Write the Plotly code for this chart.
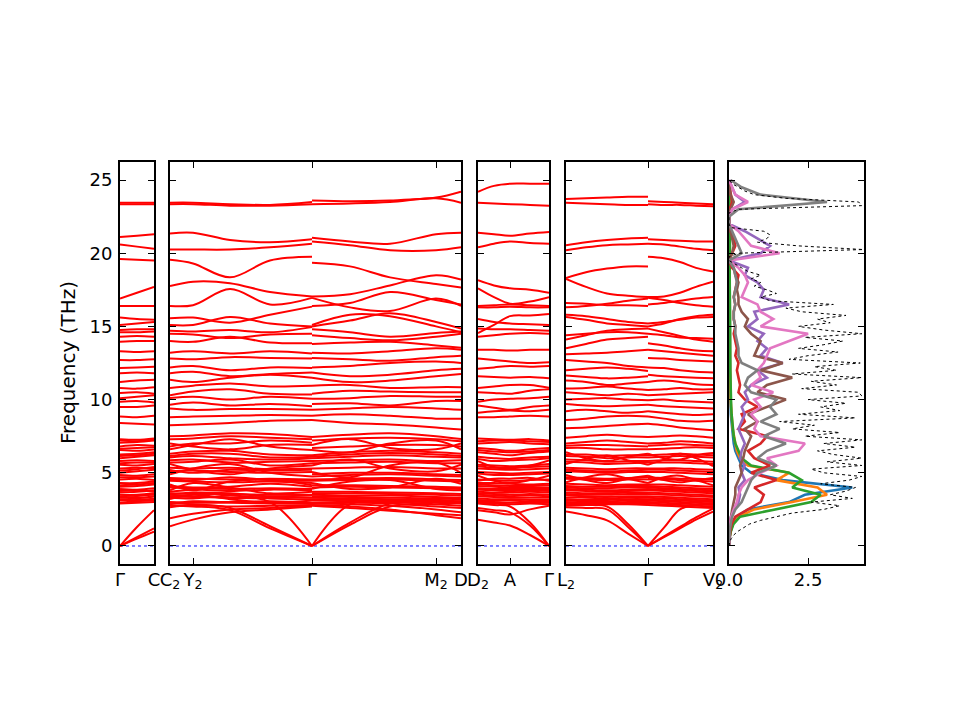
import plotly.graph_objects as go

# --- Band structure data (frequency in THz), k in path units (~100 px per unit) ---
gc_k = [0.0, 0.17, 0.34]
gc_bands = [
    [0.0, 1.3, 2.45], [0.0, 0.6, 1.2], [0.0, 0.5, 0.98],
    [2.9, 2.95, 3.0], [3.1, 3.15, 3.2], [3.3, 3.35, 3.25], [3.5, 3.5, 3.6],
    [3.65, 3.7, 3.8], [3.9, 3.85, 3.95], [4.05, 4.1, 4.2], [4.3, 4.3, 4.4],
    [4.55, 4.6, 4.5], [4.85, 4.8, 4.9], [5.0, 5.1, 5.2], [5.3, 5.35, 5.3],
    [5.55, 5.5, 5.6], [5.8, 5.85, 5.8], [6.0, 6.1, 6.2], [6.25, 6.3, 6.4],
    [6.55, 6.5, 6.6], [6.8, 6.9, 6.85], [7.05, 7.1, 7.2], [7.3, 7.25, 7.35],
    [2.95, 3.05, 3.1], [3.2, 3.25, 3.4], [3.4, 3.45, 3.5], [3.75, 3.8, 3.7],
    [4.15, 4.2, 4.3], [4.7, 4.7, 4.75], [5.15, 5.25, 5.4], [5.65, 5.7, 5.7],
    [6.15, 6.2, 6.3], [6.65, 6.7, 6.75], [7.2, 7.15, 7.25],
    [8.4, 8.35, 8.3], [8.85, 8.8, 8.9], [9.5, 9.5, 9.6], [9.85, 9.9, 9.8],
    [10.1, 10.2, 10.3], [10.45, 10.5, 10.4], [10.8, 10.75, 10.85],
    [11.2, 11.3, 11.35], [11.8, 11.85, 11.8], [12.15, 12.2, 12.25],
    [12.7, 12.7, 12.75], [13.3, 13.25, 13.3], [13.95, 14.0, 14.0],
    [14.3, 14.35, 14.3], [14.6, 14.6, 14.65], [14.75, 14.8, 14.8],
    [15.1, 15.2, 15.3], [15.6, 15.5, 15.45], [16.4, 16.4, 16.4],
    [16.9, 17.3, 17.7], [19.6, 19.55, 19.5], [20.6, 20.45, 20.3],
    [21.1, 21.2, 21.3], [23.35, 23.35, 23.35], [23.45, 23.45, 23.45],
]

c2_gamma_k = [0.0, 0.23, 0.60, 1.00, 1.42]
c2_gamma_bands = [
    [23.45, 23.45, 23.35, 23.3, 23.5], [23.35, 23.35, 23.25, 23.25, 23.35],
    [21.35, 21.4, 20.9, 20.75, 20.95], [20.25, 20.25, 20.25, 20.4, 20.65],
    [19.55, 19.3, 18.35, 19.5, 19.75], [17.75, 18.05, 17.95, 17.35, 17.05],
    [16.4, 16.45, 17.55, 16.5, 16.95], [15.55, 15.6, 15.25, 15.8, 16.35],
    [15.1, 15.1, 15.65, 15.2, 15.0], [14.7, 14.65, 14.75, 14.6, 14.95],
    [14.5, 14.45, 14.2, 14.45, 14.5], [14.0, 13.95, 14.3, 13.9, 13.85],
    [13.2, 13.3, 13.15, 13.3, 13.15], [12.8, 12.75, 12.9, 12.85, 12.8],
    [12.2, 12.3, 12.0, 12.2, 12.15], [11.8, 11.9, 11.6, 11.75, 11.85],
    [11.35, 11.2, 11.5, 11.7, 11.5], [10.8, 10.95, 11.1, 10.9, 10.95],
    [10.3, 10.55, 10.7, 10.4, 10.35], [10.1, 10.2, 10.0, 10.2, 10.05],
    [9.65, 9.8, 9.6, 9.7, 9.55], [9.4, 9.3, 9.35, 9.35, 9.3],
    [8.8, 8.85, 8.9, 8.95, 8.9], [8.25, 8.3, 8.4, 8.55, 8.6],
    [7.5, 7.55, 7.7, 7.65, 7.45], [7.0, 6.8, 6.6, 6.9, 6.9],
    [6.6, 6.9, 7.3, 6.8, 6.55], [6.3, 6.45, 6.5, 6.25, 6.2],
    [6.05, 6.15, 6.0, 5.9, 6.0], [5.85, 5.9, 5.7, 5.75, 5.8],
    [5.6, 5.2, 4.9, 5.3, 5.5], [5.35, 5.3, 5.35, 5.25, 5.3],
    [5.1, 5.15, 5.05, 5.0, 5.05], [4.9, 5.3, 5.6, 5.0, 4.75],
    [4.65, 4.6, 4.55, 4.6, 4.55], [4.45, 4.4, 4.35, 4.4, 4.3],
    [4.2, 3.8, 4.4, 4.5, 4.15], [4.0, 3.95, 3.9, 3.95, 3.9],
    [3.8, 4.3, 4.0, 3.6, 3.7], [3.6, 3.55, 3.55, 3.5, 3.5],
    [3.4, 3.35, 3.3, 3.35, 3.3], [3.2, 3.5, 3.2, 2.95, 3.1],
    [3.0, 2.95, 2.95, 2.9, 2.9], [2.65, 2.8, 2.7, 2.75, 2.8],
    [2.85, 3.05, 3.0, 3.05, 2.95], [3.3, 3.25, 3.45, 3.25, 3.2],
    [3.5, 3.65, 3.6, 3.4, 3.45], [3.7, 3.85, 3.75, 3.85, 3.8],
    [4.1, 4.0, 4.05, 4.25, 4.05], [4.55, 4.5, 4.7, 4.5, 4.45],
    [5.2, 5.0, 5.2, 5.15, 5.2], [5.7, 5.75, 5.9, 5.5, 5.65],
    [6.15, 6.3, 6.3, 6.05, 6.1], [6.8, 7.0, 7.0, 7.2, 7.05],
    [7.3, 7.35, 7.5, 7.4, 7.3],
    [1.9, 2.2, 2.5, 2.6, 2.75], [1.35, 1.8, 2.3, 2.5, 2.7],
    [3.5, 3.4, 3.3, 3.0, 0.0], [2.9, 2.85, 2.6, 1.35, 0.0],
    [2.75, 2.7, 2.45, 1.2, 0.0],
]

gamma_d_k = [1.42, 1.80, 2.20, 2.66, 2.91]
gamma_d_bands = [
    [23.6, 23.55, 23.6, 23.8, 24.2], [23.35, 23.4, 23.5, 23.75, 23.45],
    [21.05, 20.8, 20.65, 21.3, 21.4], [20.8, 20.55, 20.2, 20.2, 20.4],
    [19.35, 19.1, 18.35, 17.9, 17.65], [17.05, 17.2, 17.8, 18.5, 18.2],
    [16.4, 16.6, 17.35, 16.8, 16.5], [16.95, 16.3, 16.05, 16.9, 16.4],
    [15.1, 15.8, 15.7, 15.0, 14.6], [15.0, 15.4, 15.9, 15.3, 14.85],
    [14.8, 14.6, 14.3, 14.55, 14.65], [14.4, 14.2, 14.05, 14.3, 14.5],
    [13.8, 13.9, 13.95, 13.7, 13.55], [13.2, 13.15, 13.3, 13.5, 13.4],
    [12.85, 12.75, 12.65, 12.9, 13.0], [12.2, 12.3, 12.5, 12.6, 12.5],
    [11.85, 11.6, 11.7, 12.0, 12.1], [11.5, 11.2, 11.3, 11.6, 11.75],
    [10.95, 11.0, 10.8, 10.85, 10.85], [10.4, 10.6, 10.55, 10.5, 10.5],
    [10.05, 10.1, 10.25, 10.2, 10.2], [9.7, 9.75, 9.6, 9.9, 9.9],
    [9.3, 9.4, 9.5, 9.4, 9.3], [8.9, 9.0, 8.9, 8.7, 8.7],
    [8.6, 8.4, 8.3, 8.1, 7.95], [7.45, 7.6, 7.7, 7.5, 7.3],
    [6.9, 7.3, 6.7, 6.6, 7.0], [6.55, 6.4, 7.0, 7.2, 6.6],
    [6.2, 6.4, 6.5, 6.4, 6.3], [6.0, 6.1, 6.2, 6.1, 6.05],
    [5.8, 5.85, 5.9, 5.8, 5.85], [5.5, 5.9, 5.3, 5.1, 5.55],
    [5.3, 5.35, 5.4, 5.3, 5.3], [5.05, 4.7, 5.5, 5.7, 5.0],
    [4.75, 4.85, 4.9, 4.8, 4.75], [4.55, 4.6, 4.65, 4.55, 4.5],
    [4.3, 3.9, 4.0, 4.6, 4.25], [4.15, 4.15, 4.1, 4.05, 4.0],
    [3.9, 4.4, 4.5, 3.9, 3.8], [3.7, 3.7, 3.65, 3.6, 3.55],
    [3.5, 3.45, 3.45, 3.35, 3.3], [3.3, 3.25, 3.2, 3.1, 3.05],
    [3.1, 3.05, 3.0, 2.85, 2.75], [2.9, 2.85, 2.75, 2.5, 2.3],
    [2.95, 2.95, 2.9, 2.7, 2.6], [3.2, 3.15, 3.1, 3.0, 2.9],
    [3.4, 3.35, 3.3, 3.25, 3.2], [3.6, 3.6, 3.55, 3.5, 3.45],
    [4.0, 4.05, 4.0, 3.95, 3.9], [4.45, 4.5, 4.55, 4.45, 4.4],
    [4.9, 5.0, 5.0, 4.9, 4.85], [5.65, 5.7, 5.75, 5.65, 5.65],
    [6.1, 6.25, 6.35, 6.25, 6.15], [6.7, 6.8, 6.9, 6.9, 6.8],
    [7.2, 7.35, 7.4, 7.3, 7.15],
    [2.8, 2.7, 2.5, 2.1, 1.9], [2.75, 2.6, 2.4, 2.2, 2.1],
    [0.0, 2.85, 3.0, 3.2, 3.3], [0.0, 1.6, 2.9, 3.0, 3.05],
    [0.0, 1.45, 2.7, 2.85, 2.95],
]

d2_gamma_k = [0.0, 0.16, 0.32, 0.52, 0.71]
d2_gamma_bands = [
    [24.2, 24.6, 24.75, 24.75, 24.75], [23.45, 23.4, 23.35, 23.3, 23.25],
    [21.4, 21.3, 21.2, 21.35, 21.45], [20.4, 20.65, 20.8, 20.7, 20.65],
    [18.15, 17.8, 17.6, 17.5, 17.3], [17.6, 17.0, 16.55, 16.7, 17.0],
    [16.4, 16.45, 16.5, 16.45, 16.4], [16.3, 16.3, 16.35, 16.3, 16.3],
    [15.5, 15.3, 15.2, 15.15, 15.1], [14.55, 15.1, 15.7, 15.75, 15.85],
    [14.85, 14.8, 14.8, 14.75, 14.7], [14.3, 14.4, 14.5, 14.55, 14.5],
    [13.4, 13.4, 13.35, 13.4, 13.4], [12.8, 12.7, 12.6, 12.5, 12.55],
    [12.1, 12.2, 12.3, 12.25, 12.3], [11.6, 11.55, 11.5, 11.55, 11.45],
    [10.8, 10.9, 11.0, 11.0, 10.8], [10.5, 10.45, 10.4, 10.6, 10.7],
    [9.85, 10.0, 10.05, 10.1, 10.2], [9.6, 9.45, 9.3, 9.5, 9.6],
    [9.1, 9.2, 9.25, 9.2, 9.3], [8.8, 8.8, 8.85, 8.9, 8.85],
    [7.35, 7.3, 7.25, 7.3, 7.2], [7.0, 7.05, 7.1, 7.0, 6.95],
    [6.7, 6.6, 6.5, 6.6, 6.7], [6.4, 6.3, 6.2, 6.35, 6.45],
    [6.1, 6.0, 5.95, 6.05, 6.1], [5.8, 5.4, 5.3, 5.5, 5.85],
    [5.55, 5.5, 5.45, 5.5, 5.6], [5.3, 5.25, 5.2, 5.25, 5.3],
    [5.05, 5.0, 4.95, 5.0, 5.05], [4.8, 4.45, 4.3, 4.5, 4.8],
    [4.55, 4.5, 4.45, 4.5, 4.55], [4.3, 4.3, 4.25, 4.2, 4.25],
    [4.1, 4.05, 4.0, 4.0, 4.0], [3.85, 3.8, 3.75, 3.8, 3.75],
    [3.6, 3.55, 3.5, 3.55, 3.5], [3.4, 3.35, 3.3, 3.3, 3.3],
    [3.15, 3.1, 3.1, 3.05, 3.05], [2.95, 2.9, 2.85, 2.9, 2.85],
    [3.0, 3.0, 2.95, 2.95, 2.95], [3.25, 3.2, 3.2, 3.15, 3.15],
    [3.5, 3.45, 3.4, 3.45, 3.4], [3.7, 3.65, 3.65, 3.7, 3.65],
    [3.95, 3.9, 3.9, 3.9, 3.9], [4.2, 4.15, 4.1, 4.1, 4.15],
    [4.45, 4.6, 4.6, 4.65, 4.45], [4.95, 4.85, 4.85, 4.9, 4.95],
    [5.45, 5.35, 5.35, 5.4, 5.45], [5.95, 5.8, 5.85, 5.9, 6.0],
    [6.55, 6.45, 6.4, 6.45, 6.55], [7.15, 7.2, 7.2, 7.15, 7.1],
    [2.45, 2.3, 2.15, 2.5, 2.75],
    [1.8, 1.6, 1.4, 0.75, 0.0], [2.6, 2.45, 2.3, 1.4, 0.0],
    [2.9, 2.8, 2.7, 1.6, 0.0],
]

l2_gamma_k = [0.0, 0.20, 0.41, 0.62, 0.82]
l2_gamma_bands = [
    [23.7, 23.75, 23.8, 23.85, 23.85], [23.45, 23.4, 23.35, 23.3, 23.3],
    [20.55, 20.75, 20.9, 21.0, 21.05], [20.2, 20.4, 20.55, 20.6, 20.65],
    [18.3, 18.7, 18.95, 19.1, 19.1], [18.25, 17.7, 17.25, 17.1, 17.0],
    [16.6, 16.55, 16.45, 16.45, 16.4], [16.3, 16.4, 16.55, 16.75, 16.9],
    [15.8, 15.7, 15.5, 15.3, 15.2], [15.65, 15.45, 15.2, 15.1, 15.0],
    [14.1, 14.4, 14.7, 14.8, 14.85], [14.4, 14.5, 14.6, 14.6, 14.5],
    [13.5, 13.8, 14.1, 14.2, 14.3], [13.1, 13.15, 13.2, 13.3, 13.4],
    [12.7, 12.6, 12.5, 12.3, 12.2], [12.0, 12.1, 12.2, 12.1, 11.95],
    [11.65, 11.55, 11.45, 11.5, 11.6], [11.3, 11.2, 11.0, 11.1, 11.2],
    [10.75, 10.8, 10.9, 10.75, 10.65], [10.5, 10.4, 10.3, 10.4, 10.3],
    [10.0, 10.05, 10.1, 10.0, 9.95], [9.7, 9.6, 9.55, 9.6, 9.65],
    [9.2, 9.3, 9.2, 9.1, 9.2], [8.6, 8.7, 8.85, 8.9, 8.85],
    [8.05, 8.1, 8.2, 8.3, 8.35], [7.4, 7.5, 7.6, 7.5, 7.45],
    [7.0, 7.1, 7.2, 7.1, 7.0], [6.7, 6.7, 6.6, 6.6, 6.6],
    [6.4, 6.0, 5.8, 6.1, 6.3], [6.15, 6.1, 6.0, 6.05, 6.05],
    [5.9, 5.85, 5.75, 5.8, 5.8], [5.6, 5.95, 6.2, 5.85, 5.55],
    [5.35, 5.3, 5.25, 5.3, 5.3], [5.1, 5.05, 5.0, 5.05, 5.05],
    [4.85, 4.5, 4.3, 4.6, 4.8], [4.6, 4.55, 4.5, 4.55, 4.55],
    [4.35, 4.7, 4.9, 4.6, 4.3], [4.1, 4.05, 4.05, 4.1, 4.1],
    [3.9, 3.85, 3.8, 3.85, 3.9], [3.65, 3.6, 3.6, 3.65, 3.65],
    [3.45, 3.4, 3.35, 3.4, 3.4], [3.2, 3.15, 3.15, 3.2, 3.2],
    [3.0, 2.95, 2.95, 3.0, 3.0], [2.75, 2.8, 2.85, 2.85, 2.8],
    [2.9, 2.9, 2.9, 2.92, 2.9], [3.1, 3.05, 3.05, 3.1, 3.1],
    [3.3, 3.3, 3.25, 3.3, 3.3], [3.55, 3.5, 3.5, 3.55, 3.55],
    [3.8, 3.75, 3.7, 3.75, 3.8], [4.0, 3.95, 3.95, 4.0, 4.0],
    [4.25, 4.2, 4.15, 4.2, 4.2], [4.7, 4.65, 4.6, 4.65, 4.7],
    [5.2, 5.15, 5.1, 5.15, 5.2], [5.75, 5.7, 5.6, 5.65, 5.7],
    [6.25, 6.25, 6.15, 6.2, 6.2], [6.85, 6.9, 6.9, 6.85, 6.8],
    [2.35, 2.1, 1.75, 0.85, 0.0], [2.65, 2.6, 2.5, 1.3, 0.0],
    [2.85, 2.8, 2.7, 1.5, 0.0],
]

gamma_v2_k = [0.82, 0.98, 1.14, 1.30, 1.47]
gamma_v2_bands = [
    [23.55, 23.5, 23.45, 23.4, 23.35], [23.35, 23.3, 23.3, 23.25, 23.2],
    [20.95, 20.9, 20.85, 20.8, 20.8], [20.65, 20.6, 20.45, 20.3, 20.2],
    [19.75, 19.65, 19.4, 19.0, 18.75], [17.0, 17.05, 17.3, 17.7, 18.05],
    [16.95, 16.8, 16.6, 16.45, 16.35], [16.5, 16.6, 16.75, 16.9, 17.0],
    [15.2, 15.3, 15.45, 15.6, 15.65], [15.0, 15.2, 15.5, 15.7, 15.8],
    [14.85, 14.6, 14.35, 14.1, 13.95], [14.5, 14.4, 14.25, 14.2, 14.15],
    [13.85, 13.7, 13.5, 13.35, 13.3], [13.4, 13.3, 13.2, 13.1, 13.0],
    [12.85, 12.8, 12.7, 12.65, 12.6], [12.2, 12.15, 12.0, 11.9, 11.85],
    [11.7, 11.6, 11.55, 11.5, 11.45], [11.2, 11.3, 11.2, 11.05, 11.0],
    [10.65, 10.7, 10.8, 10.7, 10.7], [10.3, 10.35, 10.4, 10.45, 10.5],
    [9.95, 10.0, 9.9, 9.85, 9.8], [9.65, 9.55, 9.5, 9.45, 9.4],
    [9.2, 9.1, 9.0, 8.95, 9.0], [8.85, 8.7, 8.55, 8.5, 8.55],
    [8.35, 8.25, 8.1, 8.0, 7.9], [7.45, 7.5, 7.55, 7.5, 7.4],
    [7.0, 7.05, 7.15, 7.1, 7.0], [6.6, 6.65, 6.7, 6.75, 6.7],
    [6.3, 6.0, 5.9, 6.2, 6.35], [6.05, 6.1, 6.15, 6.1, 6.05],
    [5.8, 5.85, 5.85, 5.8, 5.75], [5.55, 5.9, 6.3, 6.0, 5.45],
    [5.3, 5.3, 5.3, 5.25, 5.2], [5.05, 5.05, 5.0, 4.95, 4.9],
    [4.8, 4.5, 4.35, 4.5, 4.65], [4.55, 4.55, 4.5, 4.45, 4.4],
    [4.3, 4.7, 4.8, 4.5, 4.15], [4.1, 4.05, 4.0, 3.95, 3.9],
    [3.9, 3.85, 3.8, 3.75, 3.7], [3.65, 3.6, 3.55, 3.5, 3.45],
    [3.4, 3.35, 3.3, 3.25, 3.2], [3.2, 3.15, 3.1, 3.05, 3.0],
    [3.0, 2.95, 2.9, 2.85, 2.8], [2.8, 2.75, 2.7, 2.65, 2.6],
    [2.9, 2.85, 2.8, 2.75, 2.7], [3.1, 3.05, 3.0, 2.95, 2.9],
    [3.3, 3.25, 3.2, 3.15, 3.1], [3.55, 3.5, 3.45, 3.4, 3.35],
    [3.8, 3.75, 3.7, 3.65, 3.6], [4.0, 3.95, 3.9, 3.85, 3.8],
    [4.2, 4.2, 4.15, 4.1, 4.05], [4.65, 4.65, 4.6, 4.6, 4.55],
    [5.2, 5.2, 5.15, 5.1, 5.05], [5.7, 5.7, 5.7, 5.65, 5.6],
    [6.2, 6.25, 6.3, 6.25, 6.2], [6.85, 6.9, 6.95, 6.9, 6.85],
    [0.0, 1.25, 2.5, 2.8, 2.9], [0.0, 0.65, 1.3, 1.95, 2.55],
    [0.0, 0.6, 1.2, 1.8, 2.35],
]

# --- Density of states (states/THz) ---
dos_freq = [
    0.0, 0.25, 0.5, 0.75, 1.0, 1.25, 1.5, 1.75, 2.0, 2.25, 2.5, 2.75,
    3.0, 3.25, 3.5, 3.75, 4.0, 4.25, 4.5, 4.75, 5.0, 5.25, 5.5, 5.75,
    6.0, 6.25, 6.5, 6.75, 7.0, 7.25, 7.5, 7.75, 8.0, 8.25, 8.5, 8.75,
    9.0, 9.25, 9.5, 9.75, 10.0, 10.25, 10.5, 10.75, 11.0, 11.25, 11.5, 11.75,
    12.0, 12.25, 12.5, 12.75, 13.0, 13.25, 13.5, 13.75, 14.0, 14.25, 14.5, 14.75,
    15.0, 15.25, 15.5, 15.75, 16.0, 16.25, 16.5, 16.75, 17.0, 17.25, 17.5, 17.75,
    18.0, 18.25, 18.5, 18.75, 19.0, 19.25, 19.5, 19.75, 20.0, 20.25, 20.5, 20.75,
    21.0, 21.25, 21.5, 21.75, 22.0, 22.25, 22.5, 22.75, 23.0, 23.25, 23.5, 23.75,
    24.0, 24.25, 24.5, 24.75, 25.0,
]
dos_total = [
    0.0, 0.02, 0.07, 0.15, 0.28, 0.45, 0.65, 1.0, 1.5, 2.0, 3.0, 3.5,
    2.6, 3.9, 3.2, 3.7, 4.0, 2.9, 3.8, 4.2, 3.0, 2.6, 4.2, 3.1,
    4.2, 3.3, 2.8, 4.0, 3.0, 4.2, 2.4, 3.5, 2.0, 2.7, 1.6, 4.0,
    2.2, 3.5, 2.9, 3.7, 2.5, 4.2, 4.1, 2.3, 3.4, 2.6, 4.2, 2.0,
    3.4, 2.7, 4.15, 1.9, 2.5, 3.45, 2.2, 3.0, 3.6, 2.4, 4.2, 3.0,
    2.2, 3.2, 2.8, 3.7, 2.3, 1.8, 3.3, 1.3, 1.0, 1.5, 1.2, 0.8,
    1.0, 0.7, 1.0, 0.6, 0.4, 0.2, 0.0, 0.0, 0.3, 4.25, 2.2, 0.9,
    1.2, 1.3, 1.1, 0.05, 0.0, 0.0, 0.0, 0.0, 0.3, 4.2, 4.1, 1.8,
    0.8, 0.5, 0.3, 0.1, 0.0,
]

pdos_freq = [
    0.0, 0.5, 1.0, 1.5, 2.0, 2.5, 3.0, 3.5, 4.0, 4.5,
    5.0, 5.5, 6.0, 6.5, 7.0, 7.5, 8.0, 8.5, 9.0, 9.5,
    10.0, 10.5, 11.0, 11.5, 12.0, 12.5, 13.0, 13.5, 14.0, 14.5,
    15.0, 15.5, 16.0, 16.5, 17.0, 17.5, 18.0, 18.5, 19.0, 19.5,
    20.0, 20.5, 21.0, 21.5, 22.0, 22.5, 23.0, 23.5, 24.0, 24.5, 25.0,
]
pdos_1 = [0.0, 0.01, 0.05, 0.12, 0.25, 0.6, 1.9, 2.4, 3.9, 1.7,
          0.7, 0.4, 0.3, 0.2, 0.15, 0.12, 0.1, 0.08, 0.06, 0.05,
          0.05, 0.04, 0.04, 0.04, 0.03, 0.03, 0.03, 0.03, 0.03, 0.03,
          0.03, 0.03, 0.03, 0.03, 0.02, 0.02, 0.02, 0.02, 0.02, 0.0,
          0.02, 0.02, 0.02, 0.01, 0.0, 0.0, 0.01, 0.02, 0.01, 0.0, 0.0]
pdos_2 = [0.0, 0.01, 0.05, 0.12, 0.3, 0.8, 2.0, 3.1, 2.8, 1.5,
          1.9, 0.6, 0.35, 0.25, 0.2, 0.15, 0.12, 0.1, 0.08, 0.06,
          0.05, 0.05, 0.04, 0.04, 0.04, 0.03, 0.03, 0.03, 0.03, 0.03,
          0.03, 0.03, 0.03, 0.02, 0.02, 0.02, 0.02, 0.02, 0.02, 0.0,
          0.02, 0.02, 0.02, 0.01, 0.0, 0.0, 0.01, 0.02, 0.01, 0.0, 0.0]
pdos_3 = [0.0, 0.01, 0.06, 0.14, 0.35, 1.5, 2.6, 2.9, 2.0, 2.3,
          1.9, 0.7, 0.4, 0.3, 0.2, 0.15, 0.12, 0.1, 0.08, 0.07,
          0.06, 0.05, 0.05, 0.05, 0.04, 0.04, 0.04, 0.04, 0.04, 0.03,
          0.03, 0.03, 0.03, 0.03, 0.03, 0.03, 0.03, 0.03, 0.02, 0.0,
          0.03, 0.03, 0.02, 0.01, 0.0, 0.0, 0.01, 0.02, 0.01, 0.0, 0.0]
pdos_4 = [0.0, 0.01, 0.04, 0.08, 0.2, 0.6, 1.0, 1.1, 0.8, 1.5,
          0.7, 1.3, 0.8, 0.6, 1.0, 1.2, 0.3, 0.5, 0.4, 0.9,
          0.5, 0.3, 0.35, 0.3, 0.25, 0.3, 0.2, 0.25, 0.2, 0.15,
          0.2, 0.15, 0.15, 0.2, 0.15, 0.2, 0.25, 0.3, 0.1, 0.0,
          0.1, 0.2, 0.15, 0.05, 0.0, 0.0, 0.02, 0.1, 0.05, 0.02, 0.0]
pdos_5 = [0.0, 0.0, 0.01, 0.03, 0.06, 0.15, 0.3, 0.35, 0.3, 0.5,
          0.4, 0.5, 0.35, 0.4, 0.5, 0.4, 0.3, 0.4, 0.5, 0.4,
          0.6, 0.5, 0.7, 1.2, 0.9, 1.7, 1.0, 1.2, 0.9, 1.1,
          0.6, 0.9, 0.8, 1.9, 1.0, 1.1, 0.9, 0.5, 0.6, 0.0,
          1.0, 1.3, 0.9, 0.5, 0.0, 0.0, 0.1, 0.5, 0.2, 0.1, 0.0]
pdos_6 = [0.0, 0.0, 0.01, 0.03, 0.06, 0.1, 0.15, 0.2, 0.2, 0.3,
          0.4, 0.35, 0.45, 0.5, 0.6, 0.7, 0.5, 0.9, 0.6, 1.2,
          1.8, 0.9, 1.2, 2.0, 1.0, 1.7, 0.8, 0.9, 1.0, 0.7,
          0.5, 0.6, 0.4, 0.3, 0.3, 0.25, 0.3, 0.2, 0.15, 0.0,
          0.1, 0.15, 0.1, 0.05, 0.0, 0.0, 0.05, 0.15, 0.05, 0.02, 0.0]
pdos_7 = [0.0, 0.0, 0.01, 0.03, 0.07, 0.15, 0.25, 0.3, 0.4, 0.6,
          1.0, 1.5, 1.2, 2.2, 2.4, 1.0, 0.8, 0.9, 0.7, 1.0,
          0.8, 1.4, 0.7, 1.0, 0.9, 1.1, 1.2, 1.3, 1.9, 2.5,
          1.0, 1.4, 1.0, 0.9, 0.4, 0.5, 0.6, 0.5, 0.3, 0.0,
          1.6, 0.7, 0.5, 0.3, 0.0, 0.0, 0.1, 0.6, 0.2, 0.1, 0.0]
pdos_8 = [0.0, 0.0, 0.02, 0.05, 0.1, 0.2, 0.4, 0.5, 0.6, 0.7,
          0.9, 1.5, 0.9, 1.2, 1.8, 1.1, 1.6, 1.0, 1.5, 1.3,
          1.5, 0.7, 0.5, 0.6, 0.9, 0.4, 0.3, 0.3, 0.25, 0.2,
          0.2, 0.15, 0.15, 0.2, 0.15, 0.2, 0.25, 0.2, 0.15, 0.0,
          0.4, 0.3, 0.2, 0.1, 0.0, 0.0, 0.3, 3.1, 1.0, 0.4, 0.05]
pdos_colors = ["#1f77b4", "#ff7f0e", "#2ca02c", "#d62728",
               "#9467bd", "#8c564b", "#e377c2", "#7f7f7f"]

# --- Panel layout (pixel positions of the original 960x720 figure) ---
W, H = 960, 720
OFF = 8  # the page body adds an 8 px margin around the figure
y_top, y_bot = 162, 564
panels = [
    # (axis suffix, left px, right px, k range, tick positions, tick labels)
    ("", 120, 154, [0.0, 0.34], [0.0, 0.34], ["Γ", "C"]),
    ("2", 170, 461, [0.0, 2.91], [0.0, 0.23, 1.42, 2.66, 2.91],
     ["C<sub>2</sub>", "Y<sub>2</sub>", "Γ", "M<sub>2</sub>", "D"]),
    ("3", 478, 549, [0.0, 0.71], [0.0, 0.32, 0.71], ["D<sub>2</sub>", "A", "Γ"]),
    ("4", 566, 713, [0.0, 1.47], [0.0, 0.82, 1.47], ["L<sub>2</sub>", "Γ", "V<sub>2</sub>"]),
    ("5", 729, 864, [0.0, 4.27], [0.0, 2.5], ["0.0", "2.5"]),
]

segments = [
    ("", gc_k, gc_bands),
    ("2", c2_gamma_k, c2_gamma_bands),
    ("2", gamma_d_k, gamma_d_bands),
    ("3", d2_gamma_k, d2_gamma_bands),
    ("4", l2_gamma_k, l2_gamma_bands),
    ("4", gamma_v2_k, gamma_v2_bands),
]

fig = go.Figure()

# zero-frequency reference lines (blue dotted) in the band panels
shapes = []
for suf, *_ in panels[:4]:
    shapes.append(dict(type="line", xref=f"x{suf} domain", x0=0, x1=1,
                       yref=f"y{suf}", y0=0, y1=0, layer="below",
                       line=dict(color="blue", width=1, dash="dot")))

for suf, k, bands in segments:
    xs, ys = [], []
    for b in bands:
        xs += k + [None]
        ys += b + [None]
    fig.add_trace(go.Scatter(
        x=xs, y=ys, mode="lines", xaxis=f"x{suf}", yaxis=f"y{suf}",
        line=dict(color="red", width=2, shape="spline", smoothing=1.0),
        showlegend=False, hoverinfo="skip"))

for vals, col in zip([pdos_1, pdos_2, pdos_3, pdos_4, pdos_5, pdos_6, pdos_7, pdos_8], pdos_colors):
    fig.add_trace(go.Scatter(x=vals, y=pdos_freq, mode="lines", xaxis="x5", yaxis="y5",
                             line=dict(color=col, width=2.6), showlegend=False, hoverinfo="skip"))
fig.add_trace(go.Scatter(x=dos_total, y=dos_freq, mode="lines", xaxis="x5", yaxis="y5",
                         line=dict(color="black", width=1, dash="dot"),
                         showlegend=False, hoverinfo="skip"))

font = dict(family="DejaVu Sans", size=18, color="black")
frame = dict(showline=True, linecolor="black", linewidth=1.8, mirror="ticks",
             ticks="inside", ticklen=6, tickwidth=1.2, tickcolor="black",
             showgrid=False, zeroline=False, tickfont=font, automargin=False)

layout = dict(
    width=W, height=H, margin=dict(l=0, r=0, t=0, b=0, pad=0), autosize=False,
    plot_bgcolor="white", paper_bgcolor="white", font=font, shapes=shapes,
    showlegend=False,
    annotations=[dict(text="Frequency (THz)", x=(68 - OFF) / W,
                      y=1 - ((y_top + y_bot) / 2 - OFF) / H,
                      xref="paper", yref="paper", xanchor="center", yanchor="middle",
                      textangle=-90, showarrow=False,
                      font=dict(family="DejaVu Sans", size=20, color="black"))],
)
for i, (suf, left, right, rng, tv, tt) in enumerate(panels):
    layout[f"xaxis{suf}"] = dict(frame, domain=[(left - OFF) / W, (right - OFF) / W],
                                 range=rng, tickmode="array", tickvals=tv, ticktext=tt,
                                 anchor=f"y{suf}", ticklabelstandoff=-2)
    layout[f"yaxis{suf}"] = dict(frame, domain=[1 - (y_bot - OFF) / H, 1 - (y_top - OFF) / H],
                                 range=[-1.23, 26.23], tick0=0, dtick=5,
                                 anchor=f"x{suf}", showticklabels=(i == 0),
                                 ticklabelstandoff=2)

fig.update_layout(**layout)
fig.write_html("out.html")
